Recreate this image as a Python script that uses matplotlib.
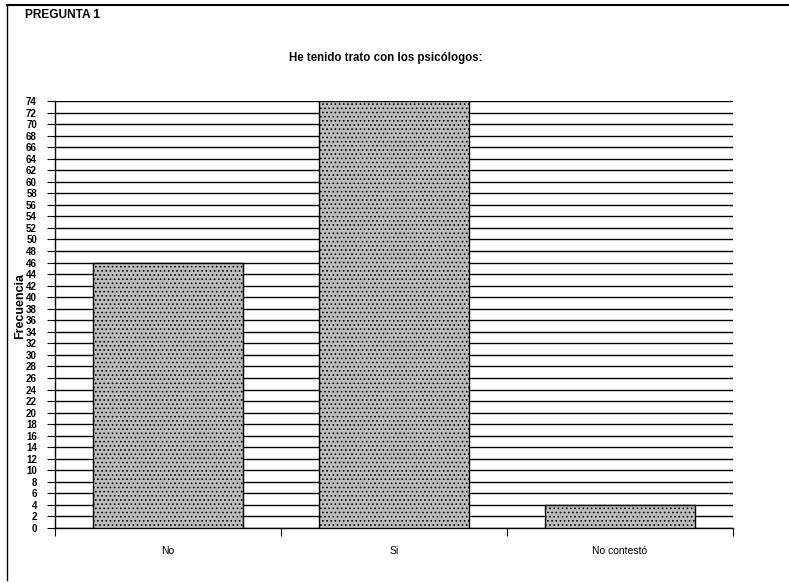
import numpy as np
import matplotlib
matplotlib.use('Agg')
import matplotlib.pyplot as plt
from matplotlib.lines import Line2D

plt.rcParams['font.family'] = ['Liberation Sans', 'DejaVu Sans']
plt.rcParams['hatch.linewidth'] = 0.7

categories = ['No', 'Si', 'No contestó']
frecuencia = [46, 74, 4]
y_ticks = list(range(0, 75, 2))

fig = plt.figure(figsize=(7.89, 5.83), dpi=100)
ax = fig.add_axes([55 / 789, 1 - 528 / 583, 678 / 789, 427 / 583])

x = np.arange(len(categories))
ax.bar(x, frecuencia, width=0.665, color='#bdbdbd', edgecolor='black',
       linewidth=1.0, hatch='....', zorder=3)

ax.set_xlim(-0.5, len(categories) - 0.5)
ax.set_ylim(0, 74)
ax.set_yticks(y_ticks)
ax.set_yticklabels([str(v) for v in y_ticks], fontsize=7, fontweight='bold')
ax.yaxis.grid(True, color='black', linewidth=1.0, zorder=0)
ax.set_axisbelow(True)
ax.tick_params(axis='y', length=6, width=0.8, pad=7)

# category labels centered, tick marks on the boundaries
ax.set_xticks(np.arange(-0.5, len(categories), 1.0))
ax.set_xticklabels([])
ax.set_xticks(x, minor=True)
ax.set_xticklabels(categories, minor=True, fontsize=7.5)
ax.tick_params(axis='x', which='major', length=6, width=0.8, direction='out')
ax.tick_params(axis='x', which='minor', length=0, pad=13)

for s in ['top', 'right']:
    ax.spines[s].set_visible(False)
ax.spines['left'].set_linewidth(1.0)
ax.spines['bottom'].set_linewidth(1.0)

fig.text(20 / 789, 1 - 306 / 583, 'Frecuencia', rotation=90, ha='center',
         va='center', fontsize=9, fontweight='bold')

fig.text(386 / 789, 1 - 58 / 583, 'He tenido trato con los psicólogos:',
         ha='center', va='center', fontsize=8.3, fontweight='bold')
fig.text(25 / 789, 1 - 15 / 583, 'PREGUNTA 1', ha='left', va='center',
         fontsize=8.6, fontweight='bold')

# scanned page frame: left and top edges
fig.add_artist(Line2D([7 / 789, 7 / 789], [1 - 5 / 583, 0.005], color='black', lw=1.0))
fig.add_artist(Line2D([7 / 789, 1.0], [1 - 5 / 583, 1 - 5 / 583], color='black', lw=1.5))

fig.savefig('out.png', dpi=100)
